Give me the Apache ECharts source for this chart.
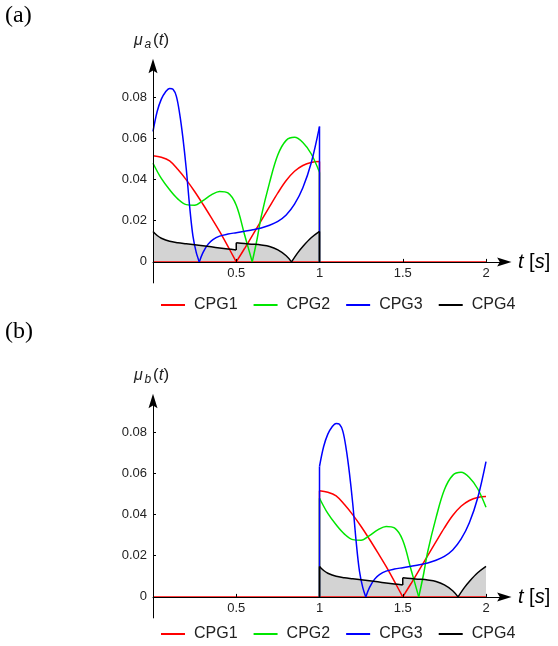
<!DOCTYPE html>
<html><head><meta charset="utf-8">
<script src="https://cdn.jsdelivr.net/npm/echarts@6/dist/echarts.min.js"></script>
<style>html,body{margin:0;padding:0;background:#fff}#c{width:558px;height:646px}</style>
</head><body><div id="c"></div>
<script>
// ---- data (panel (b) is panel (a) delayed by 1 s) ----
// each curve is split into smooth pieces at its cusps / jumps
const seriesNames = ['CPG1', 'CPG2', 'CPG3', 'CPG4'];
const seriesColors = ['#ff0000', '#00e600', '#0000ff', '#000000'];
const xTicks = [0.5, 1, 1.5, 2];
const yTicks = [0, 0.02, 0.04, 0.06, 0.08];
const delayB = 1;

const cpg1 = [
  [[0,0.0515],[0.05,0.0508],[0.1,0.0490],[0.15,0.0448],[0.2,0.0398],[0.25,0.0342],[0.3,0.0280],[0.35,0.0215],[0.4,0.0148],[0.45,0.0075],[0.5,0]],
  [[0.5,0],[0.55,0.0065],[0.6,0.0132],[0.65,0.0200],[0.7,0.0268],[0.75,0.0335],[0.8,0.0395],[0.85,0.0440],[0.9,0.0468],[0.95,0.0483],[1,0.0487]]
];
const cpg2 = [
  [[0,0.0479],[0.05,0.0405],[0.1,0.0350],[0.15,0.0305],[0.2,0.0278],[0.25,0.0275],[0.3,0.0298],[0.35,0.0325],[0.4,0.0342],[0.45,0.0335],[0.5,0.0275],[0.55,0.0132],[0.596,0]],
  [[0.596,0],[0.625,0.0110],[0.65,0.0220],[0.7,0.0385],[0.75,0.0520],[0.8,0.0590],[0.85,0.0605],[0.9,0.0580],[0.95,0.0525],[1,0.0435]]
];
const cpg3 = [
  [[0,0.0633],[0.025,0.0730],[0.05,0.0790],[0.075,0.0825],[0.1,0.0842],[0.12,0.0838],[0.14,0.0805],[0.16,0.0720],[0.18,0.0600],[0.2,0.0450],[0.22,0.0270],[0.24,0.0125],[0.26,0.0045],[0.278,0]],
  [[0.278,0],[0.3,0.0045],[0.33,0.0085],[0.36,0.0108],[0.4,0.0125],[0.45,0.0135],[0.5,0.0142],[0.55,0.0149],[0.6,0.0156],[0.65,0.0165],[0.7,0.0178],[0.75,0.0197],[0.8,0.0228],[0.85,0.0280],[0.9,0.0360],[0.95,0.0480],[1,0.0657]]
];
const cpg4 = [
  [[0,0.0148],[0.025,0.0128],[0.05,0.0115],[0.1,0.0100],[0.15,0.0093],[0.2,0.0088],[0.25,0.0083],[0.3,0.0078],[0.35,0.0073],[0.4,0.0068],[0.45,0.0063],[0.5,0.0058]],
  [[0.5,0.0093],[0.55,0.0089],[0.6,0.0086],[0.65,0.0082],[0.7,0.0075],[0.75,0.0058],[0.8,0.0030],[0.832,0]],
  [[0.832,0],[0.87,0.0045],[0.9,0.0075],[0.95,0.0117],[1,0.0148]]
];
const curves = [cpg1, cpg2, cpg3, cpg4];

// ---- chart ----
const PX_S = 166.5, PX_V = 2060;
const X_MAX = 2.11, Y_MAX = 0.0951, Y_MIN = -0.0102;
const TOPS = [66, 401];
const LEFT = 153;
const font = '"Liberation Sans", Arial, sans-serif';
const arrow = 'path://M5,0 L10,16 L5,13 L0,16 Z';

const grids = TOPS.map(t => ({left: LEFT, top: t, width: X_MAX * PX_S, height: (Y_MAX - Y_MIN) * PX_V}));
const xAxes = TOPS.map((t, i) => ({
  type: 'value', gridIndex: i, min: 0, max: X_MAX, z: 3,
  offset: Y_MIN * PX_V,
  axisLine: {show: true, onZero: false, lineStyle: {color: '#000', width: 1}, symbol: ['none', arrow], symbolSize: [9, 16]},
  axisTick: {show: true, inside: true, length: 3, lineStyle: {color: '#000'}, customValues: xTicks},
  axisLabel: {show: true, customValues: xTicks, margin: 5, fontSize: 13, fontFamily: font, color: '#222',
    formatter: v => String(v)},
  splitLine: {show: false}
}));
const yAxes = TOPS.map((t, i) => ({
  type: 'value', gridIndex: i, min: Y_MIN, max: Y_MAX, z: 3,
  axisLine: {show: true, onZero: false, lineStyle: {color: '#000', width: 1}, symbol: ['none', arrow], symbolSize: [9, 16]},
  axisTick: {show: true, inside: true, length: 3, lineStyle: {color: '#000'}, customValues: yTicks},
  axisLabel: {show: true, customValues: yTicks, margin: 6, fontSize: 13, fontFamily: font, color: '#222',
    formatter: v => (v === 0 ? '0' : v.toFixed(2))},
  splitLine: {show: false}
}));

function line(name, color, data, idx, extra) {
  return Object.assign({
    type: 'line', name, data, xAxisIndex: idx, yAxisIndex: idx,
    symbol: 'none', showSymbol: false, smooth: false, animation: false, silent: true,
    lineStyle: {color, width: 1.5}, itemStyle: {color}, z: 2
  }, extra || {});
}
const SMOOTH = {smooth: 0.35};

const series = [];
[0, 1].forEach(p => {
  const shift = p === 0 ? 0 : delayB;
  const sh = piece => piece.map(([t, v]) => [t + shift, v]);
  // grey filling under CPG4
  cpg4.forEach(piece => series.push(line('CPG4 filling', '#d3d3d3', sh(piece), p,
    Object.assign({lineStyle: {width: 0, color: '#d3d3d3'}, areaStyle: {color: '#d3d3d3', opacity: 1}, z: 1}, SMOOTH))));
  // CPG1 zero level over the whole time range
  series.push(line('CPG1', seriesColors[0], [[0, 0], [2, 0]], p));
  curves.forEach((pieces, k) => {
    const name = seriesNames[k], color = seriesColors[k];
    pieces.forEach((piece, j) => {
      series.push(line(name, color, sh(piece), p, SMOOTH));
      if (j < pieces.length - 1) {
        const a = piece[piece.length - 1], b = pieces[j + 1][0];
        if (a[1] !== b[1]) series.push(line(name, color, sh([a, b]), p));
      }
    });
    // switching on / off at t = 1 s
    if (p === 0) { const e = pieces[pieces.length - 1]; series.push(line(name, color, [[1, e[e.length - 1][1]], [1, 0]], p)); }
    else { series.push(line(name, color, [[1, 0], [1, pieces[0][0][1]]], p)); }
  });
});

function legend(top) {
  return {data: seriesNames, left: 161, top, padding: 0, icon: 'rect', itemWidth: 24, itemHeight: 2, itemGap: 16,
    selectedMode: false,
    textStyle: {fontSize: 16, fontFamily: font, color: '#222', padding: [0, 0, 0, 4]}};
}

const graphics = [];
[['(a)', 16, 'a', 0], ['(b)', 332, 'b', 335]].forEach(([lab, ly, sub, dy]) => {
  graphics.push({type: 'text', x: 5, y: ly, style: {text: lab, font: '24px "Liberation Serif", "Times New Roman", serif', fill: '#000', verticalAlign: 'middle'}});
  graphics.push({type: 'text', x: 134, y: 41 + dy, style: {text: 'μ', font: 'italic 16px ' + font, fill: '#222', verticalAlign: 'middle'}});
  graphics.push({type: 'text', x: 144.5, y: 45 + dy, style: {text: sub, font: 'italic 12px ' + font, fill: '#222', verticalAlign: 'middle'}});
  graphics.push({type: 'text', x: 153, y: 40.5 + dy, style: {text: '{n|(}{i|t}{n|)}', fill: '#222', verticalAlign: 'middle',
    rich: {n: {fontSize: 17, fontFamily: font, fill: '#222'}, i: {fontSize: 17, fontFamily: font, fontStyle: 'italic', fill: '#222'}}}});
  graphics.push({type: 'text', x: 518, y: 262 + dy, style: {text: '{i|t} [{i|s}]', fill: '#000', verticalAlign: 'middle', fontSize: 20, fontFamily: font,
    rich: {i: {fontSize: 20, fontFamily: font, fontStyle: 'italic', fill: '#000'}}}});
});

const chart = echarts.init(document.getElementById('c'), null, {renderer: 'canvas'});
chart.setOption({
  backgroundColor: '#fff',
  animation: false,
  grid: grids, xAxis: xAxes, yAxis: yAxes,
  legend: [legend(297), legend(626)],
  series,
  graphic: {elements: graphics}
});
</script></body></html>
